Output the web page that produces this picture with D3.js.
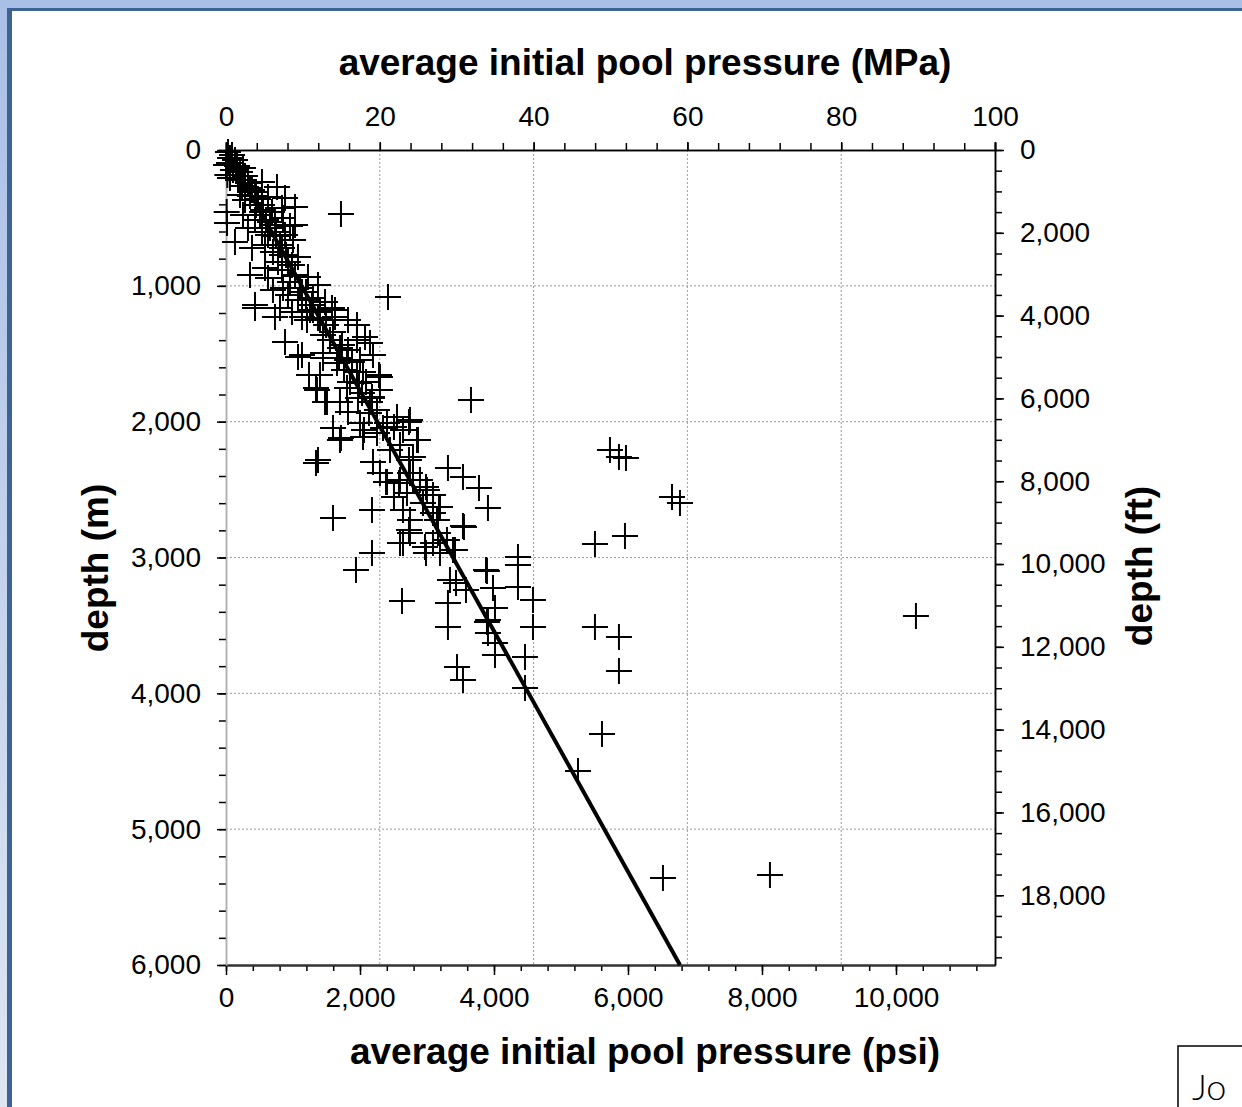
<!DOCTYPE html>
<html>
<head>
<meta charset="utf-8">
<script src="https://cdn.jsdelivr.net/npm/d3@7"></script>
<style>
  body { margin: 0; background: #fff; }
  svg { display: block; font-family: "Liberation Sans", Arial, sans-serif; }
</style>
</head>
<body>
<svg id="chart" width="1242" height="1107"></svg>
<script>
// pool data: pressure in psi, depth in m
var pressurePsi = [60, 0, 134, 254, 20, 60, 179, 537, 761, 433, 627, 881, 1030, 836, 1030, 731, 10, 15, 134, 328,
  254, 433, 537, 388, 582, 627, 881, 1000, 1075, 836, 358, 582, 836, 985, 1224, 627, 701, 433, 925, 1134,
  1373, 1284, 1478, 1582, 985, 731, 1134, 1821, 1627, 30, 90, 45, 164, 209, 104, 284, 328, 239, 388, 358,
  478, 448, 537, 507, 597, 687, 657, 746, 537, 806, 701, 896, 776, 955, 1030, 851, 1075, 1194, 1254, 1403,
  284, 209, 851, 955, 433, 806, 881, 1134, 1209, 1403, 1448, 1552, 1448, 1701, 1955, 1955, 2075, 2149, 1627, 1298,
  1657, 1403, 1358, 1507, 1701, 1806, 1851, 2030, 2179, 2298, 2298, 2045, 1806, 2000, 2194, 1373, 1343, 1597, 1701, 2000,
  2045, 2254, 2403, 2552, 2746, 2642, 2851, 2597, 2791, 2448, 2194, 2298, 2403, 2597, 2746, 2895, 2999, 2701, 3090, 3657,
  1597, 2179, 2179, 1940, 1716, 1478, 1343, 1239, 1075, 2284, 2179, 1970, 2060, 2343, 2507, 2731, 2866, 2731, 2388, 2582,
  2507, 2642, 2791, 2985, 3179, 3313, 3537, 3776, 3910, 3552, 3388, 3090, 2731, 2642, 2985, 3881, 3985, 3433, 3582, 2134,
  1821, 1985, 1761, 1687, 1448, 2597, 2746, 2627, 3313, 3313, 3448, 3537, 4015, 4463, 4463, 4582, 4582, 4358, 4358, 4358,
  3895, 4015, 3910, 3910, 4015, 2970, 3194, 3418, 3298, 3164, 3149, 2746, 2940, 3194, 3090, 3537, 3343, 3895,
  150, 269, 358, 448, 552, 657, 746, 836, 925, 1030, 1104, 1194, 1298, 1373, 1493, 1597, 1731, 1821, 1881, 1955,
  2090, 2149, 2254,
  1716, 2418, 5731, 5865, 5970, 6657, 6776, 5955, 5507, 10298, 5507, 5865, 5865, 5612, 5254, 6522, 8119];

var depthM = [59, 110, 74, 133, 184, 206, 221, 236, 272, 309, 346, 353, 420, 427, 552, 552, 456, 537, 677, 574,
  479, 515, 456, 721, 699, 626, 626, 663, 788, 773, 920, 869, 883, 847, 935, 942, 1031, 1141, 1067, 1045,
  994, 1141, 1119, 1163, 1193, 1229, 1229, 1252, 1229, 15, 37, 96, 118, 162, 147, 191, 243, 265, 294, 339,
  361, 405, 405, 479, 515, 456, 574, 604, 604, 699, 751, 773, 825, 972, 920, 1016, 1104, 1104, 1178, 1193,
  368, 331, 501, 560, 1163, 1163, 1413, 1509, 1252, 1252, 1362, 1399, 1494, 1458, 1288, 1399, 1377, 1421, 1178, 1178,
  1568, 1656, 1767, 1855, 1855, 1752, 1708, 1789, 1826, 1671, 1767, 1634, 1546, 1546, 1509, 2282, 2304, 2047, 2135, 2010,
  2113, 2083, 2010, 1966, 1988, 2061, 2135, 2172, 2260, 2209, 2297, 2378, 2444, 2429, 2378, 2429, 2503, 2525, 2540, 1840,
  2709, 2650, 2967, 3092, 2120, 1855, 1752, 1656, 1524, 1656, 1818, 1826, 2061, 2047, 2039, 2002, 2135, 2282, 2444, 2451,
  2555, 2650, 2429, 2481, 2628, 2341, 2407, 2488, 2636, 2775, 2945, 2893, 2798, 2893, 2967, 3092, 3224, 3188, 3239, 1936,
  1929, 1715, 1620, 1531, 1531, 2893, 2820, 3320, 3335, 3512, 3806, 3902, 3718, 3733, 3961, 3313, 3512, 2996, 3055, 3217,
  3099, 3372, 3460, 3556, 3630, 2923, 2967, 2945, 2871, 2820, 2724, 2724, 2599, 2628, 2672, 2768, 3166, 3475,
  147, 221, 280, 339, 442, 530, 633, 721, 825, 928, 1016, 1045, 1090, 1237, 1288, 1340, 1436, 1472, 1561, 1634,
  1708, 1855, 1914,
  471, 1082, 2209, 2260, 2267, 2555, 2599, 2842, 2901, 3431, 3512, 3585, 3836, 4299, 4572, 5359, 5337];

// trend line end points
var lineDepthM = [0, 6000];
var linePsi = [0, 6776];

// axis ranges and ticks
var psiMax = 11478;
var depthMax = 6000;
var ftMax = depthMax / 0.3048;
var mpaTicks = [0, 20, 40, 60, 80, 100];
var psiTicks = [0, 2000, 4000, 6000, 8000, 10000];
var depthTicks = [0, 1000, 2000, 3000, 4000, 5000, 6000];
var ftTicks = [0, 2000, 4000, 6000, 8000, 10000, 12000, 14000, 16000, 18000];

var svg = d3.select("#chart");
var plotLeft = 226, plotRight = 995, plotTop = 150, plotBottom = 965;

// frame background
var defs = svg.append("defs");
var grad = defs.append("linearGradient").attr("id", "bg").attr("x1", 0).attr("y1", 0).attr("x2", 0).attr("y2", 1);
grad.append("stop").attr("offset", "0%").attr("stop-color", "#a9bfe6");
grad.append("stop").attr("offset", "100%").attr("stop-color", "#dee6f3");
svg.append("rect").attr("width", 1242).attr("height", 1107).attr("fill", "url(#bg)");
svg.append("rect").attr("x", 7).attr("y", 8).attr("width", 1240).attr("height", 1105).attr("fill", "#3d6395");
svg.append("rect").attr("x", 12).attr("y", 11).attr("width", 1240).attr("height", 1105).attr("fill", "#fff");

var xPsi = d3.scaleLinear().domain([0, psiMax]).range([plotLeft, plotRight]);
var xMpa = d3.scaleLinear().domain([0, 100]).range([plotLeft, plotRight]);
var yM = d3.scaleLinear().domain([0, depthMax]).range([plotTop, plotBottom]);
var yFt = d3.scaleLinear().domain([0, ftMax]).range([plotTop, plotBottom]);

// gridlines
svg.append("g").selectAll("line").data(mpaTicks.slice(1, -1)).join("line")
  .attr("x1", d => xMpa(d)).attr("x2", d => xMpa(d))
  .attr("y1", plotTop).attr("y2", plotBottom)
  .attr("stroke", "#9a9a9a").attr("stroke-width", 1).attr("stroke-dasharray", "2,2");
svg.append("g").selectAll("line").data(depthTicks.slice(1, -1)).join("line")
  .attr("y1", d => yM(d)).attr("y2", d => yM(d))
  .attr("x1", plotLeft).attr("x2", plotRight)
  .attr("stroke", "#9a9a9a").attr("stroke-width", 1).attr("stroke-dasharray", "2,2");

function styleAxis(g, color) {
  g.selectAll("text").attr("font-size", 28).attr("fill", "#000")
    .attr("font-family", "Liberation Sans, Arial, sans-serif");
  g.selectAll("line").attr("stroke", "#000").attr("stroke-width", 1.5);
  g.selectAll(".domain").attr("stroke", color).attr("stroke-width", 1.5);
}

// top axis (MPa)
var gTop = svg.append("g").attr("transform", "translate(0," + plotTop + ")");
gTop.append("g").call(d3.axisTop(xMpa).tickValues(d3.range(0, 101, 4)).tickSize(7).tickFormat(""));
gTop.append("g").call(d3.axisTop(xMpa).tickValues(mpaTicks).tickSize(8).tickPadding(16).tickFormat(d3.format("d")));
styleAxis(gTop, "#000");

// bottom axis (psi)
var gBot = svg.append("g").attr("transform", "translate(0," + plotBottom + ")");
gBot.append("g").call(d3.axisBottom(xPsi).tickValues(d3.range(0, psiMax, 400)).tickSize(6).tickFormat("").tickSizeOuter(0));
gBot.append("g").call(d3.axisBottom(xPsi).tickValues(psiTicks).tickSize(10).tickPadding(12).tickFormat(d3.format(",")).tickSizeOuter(0));
styleAxis(gBot, "#333");
gBot.selectAll(".domain").attr("stroke-width", 2);

// left axis (m)
var gLeft = svg.append("g").attr("transform", "translate(" + plotLeft + ",0)");
gLeft.append("g").call(d3.axisLeft(yM).tickValues(d3.range(0, depthMax + 1, 200)).tickSize(7).tickFormat("").tickSizeOuter(0));
gLeft.append("g").call(d3.axisLeft(yM).tickValues(depthTicks).tickSize(9).tickPadding(16).tickFormat(d3.format(",")).tickSizeOuter(0));
styleAxis(gLeft, "#b0b0b0");

// right axis (ft)
var gRight = svg.append("g").attr("transform", "translate(" + plotRight + ",0)");
gRight.append("g").call(d3.axisRight(yFt).tickValues(d3.range(0, ftMax, 500)).tickSize(7).tickFormat("").tickSizeOuter(0));
gRight.append("g").call(d3.axisRight(yFt).tickValues(ftTicks).tickSize(9).tickPadding(16).tickFormat(d3.format(",")).tickSizeOuter(0));
styleAxis(gRight, "#000");

// scatter crosses
var points = pressurePsi.map(function (p, i) { return { psi: p, m: depthM[i] }; });
svg.append("g").selectAll("path").data(points).join("path")
  .attr("transform", d => "translate(" + xPsi(d.psi) + "," + yM(d.m) + ")")
  .attr("d", "M-13,0H13M0,-13V13")
  .attr("stroke", "#000").attr("stroke-width", 2).attr("fill", "none");

// trend line
var lineData = linePsi.map(function (p, i) { return [p, lineDepthM[i]]; });
svg.append("path").datum(lineData)
  .attr("d", d3.line().x(d => xPsi(d[0])).y(d => yM(d[1])))
  .attr("stroke", "#000").attr("stroke-width", 4).attr("fill", "none");

// axis titles
svg.append("text").attr("x", 645).attr("y", 75).attr("text-anchor", "middle")
  .attr("font-size", 37).attr("font-weight", "bold").text("average initial pool pressure (MPa)");
svg.append("text").attr("x", 645).attr("y", 1064).attr("text-anchor", "middle")
  .attr("font-size", 37).attr("font-weight", "bold").text("average initial pool pressure (psi)");
svg.append("text").attr("transform", "translate(108,568) rotate(-90)").attr("text-anchor", "middle")
  .attr("font-size", 37).attr("font-weight", "bold").text("depth (m)");
svg.append("text").attr("transform", "translate(1152,566) rotate(-90)").attr("text-anchor", "middle")
  .attr("font-size", 37).attr("font-weight", "bold").text("depth (ft)");

// cut-off note box in the corner
svg.append("rect").attr("x", 1178).attr("y", 1046).attr("width", 80).attr("height", 80)
  .attr("fill", "#fff").attr("stroke", "#000").attr("stroke-width", 1.5);
svg.append("text").attr("x", 1192).attr("y", 1100).attr("font-size", 36)
  .attr("font-family", "Lato, sans-serif").attr("font-weight", 300).text("Jo");
</script>
</body>
</html>
